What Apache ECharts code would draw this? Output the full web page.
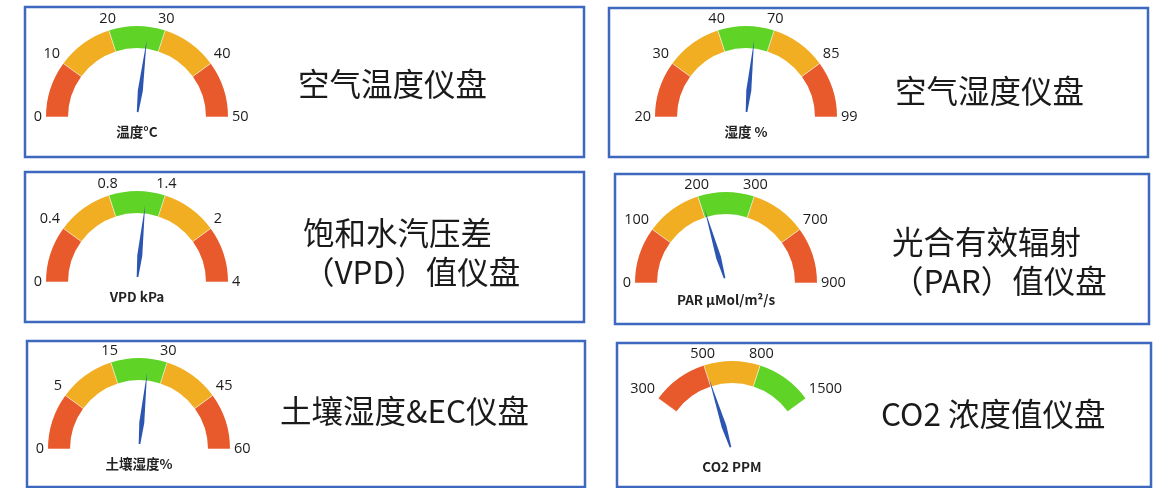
<!DOCTYPE html>
<html>
<head>
<meta charset="utf-8">
<script src="https://cdn.jsdelivr.net/npm/echarts@6/dist/echarts.min.js"></script>
<style>
  html, body { margin: 0; padding: 0; background: #fff; }
  #chart { width: 1161px; height: 488px; }
</style>
</head>
<body>
<div id="chart"></div>
<script>
// tick labels of each dial (segments are equal angle, so the scale is piecewise)
const tempTicks = [0, 10, 20, 30, 40, 50]
const humTicks = [20, 30, 40, 70, 85, 99]
const vpdTicks = [0, 0.4, 0.8, 1.4, 2, 4]
const parTicks = [0, 100, 200, 300, 700, 900]
const soilTicks = [0, 5, 15, 30, 45, 60]
const co2Ticks = [300, 500, 800, 1500]

// needle readings
const tempValue = 27
const humValue = 60
const vpdValue = 1.2
const parValue = 205
const soilValue = 25
const co2Value = 505

const unitNames = ['温度°C', '湿度 %', 'VPD kPa', 'PAR μMol/m²/s', '土壤湿度%', 'CO2 PPM']
const panelTitles = ['空气温度仪盘', '空气湿度仪盘', '饱和水汽压差\n（VPD）值仪盘', '光合有效辐射\n（PAR）值仪盘', '土壤湿度&EC仪盘', 'CO2 浓度值仪盘']

const RED = '#E85A2B'
const ORANGE = '#F1AE22'
const GREEN = '#5FD326'
const BLUE = '#2C55B2'

// layout of each panel
const panels = [
  {ticks: tempTicks, value: tempValue, center: [137, 117], box: [25, 7, 559, 150], title: [298, 65], bands: [RED, ORANGE, GREEN, ORANGE, RED]},
  {ticks: humTicks, value: humValue, center: [746, 117], box: [609, 8, 539, 149], title: [895, 72], bands: [RED, ORANGE, GREEN, ORANGE, RED]},
  {ticks: vpdTicks, value: vpdValue, center: [137, 282], box: [25, 172, 559, 150], title: [303, 214], bands: [RED, ORANGE, GREEN, ORANGE, RED]},
  {ticks: parTicks, value: parValue, center: [726, 283], box: [615, 174, 534, 150], title: [892, 223], bands: [RED, ORANGE, GREEN, ORANGE, RED], unitOffset: 17},
  {ticks: soilTicks, value: soilValue, center: [139, 449], box: [27, 341, 558, 146], title: [280, 392], bands: [RED, ORANGE, GREEN, ORANGE, RED]},
  {ticks: co2Ticks, value: co2Value, center: [732, 452], box: [617, 343, 534, 144], title: [881, 395], bands: [RED, ORANGE, GREEN], start: 144},
]

const R = 91
const BAND = 22
// 细长指针，尾部收窄
const NEEDLE = 'path://M2,0 L3.2,70 L2.4,100 L1.6,100 L0.8,70 Z'

/** 把读数换算成刻度段序号 */
function toIndex(v, ticks) {
  for (let i = 0; i < ticks.length - 1; i++) {
    if (v <= ticks[i + 1]) {
      return i + (v - ticks[i]) / (ticks[i + 1] - ticks[i])
    }
  }
  return ticks.length - 1
}

const option = {
  animation: false,
  backgroundColor: '#fff',
  title: [],
  polar: [],
  angleAxis: [],
  radiusAxis: [],
  series: [],
  graphic: [],
}

panels.forEach((p, i) => {
  const segs = p.ticks.length - 1
  const start = p.start || 180
  const end = start - segs * 36

  option.graphic.push({
    type: 'rect',
    shape: {x: p.box[0], y: p.box[1], width: p.box[2], height: p.box[3]},
    style: {fill: 'none', stroke: '#3D68C0', lineWidth: 2.5},
    z: 10,
  })

  option.title.push({
    text: panelTitles[i],
    left: p.title[0],
    top: p.title[1],
    padding: 0,
    textStyle: {
      fontFamily: 'Noto Sans CJK SC',
      fontSize: 31.5,
      fontWeight: 'normal',
      color: '#1a1a1a',
      lineHeight: 39,
    },
  })

  // tick labels through a polar angle axis (sits outside the arc)
  option.polar.push({center: p.center, radius: [0, R + 13]})
  option.angleAxis.push({
    polarIndex: i,
    type: 'value',
    min: 0,
    max: 10,
    interval: 1,
    startAngle: start,
    clockwise: true,
    axisLine: {show: false},
    axisTick: {show: false},
    splitLine: {show: false},
    axisLabel: {
      margin: -9,
      color: '#1c1c1c',
      fontSize: 14.5,
      fontFamily: 'Open Sans',
      formatter: v => (v <= segs ? String(p.ticks[v]) : ''),
    },
  })
  option.radiusAxis.push({polarIndex: i, type: 'value', min: 0, max: 1, show: false})

  option.series.push({
    type: 'gauge',
    center: p.center,
    radius: R,
    startAngle: start,
    endAngle: end,
    min: 0,
    max: segs,
    splitNumber: segs,
    axisLine: {
      lineStyle: {
        width: BAND,
        color: p.bands.map((c, k) => [(k + 1) / segs, c]),
      },
    },
    splitLine: {
      show: true,
      distance: -BAND,
      length: BAND,
      lineStyle: {color: 'rgba(255,255,255,0.55)', width: 1},
    },
    axisTick: {show: false},
    axisLabel: {show: false},
    pointer: {
      icon: NEEDLE,
      length: 72,
      width: 5,
      offsetCenter: [0, -5],
      itemStyle: {color: BLUE},
    },
    anchor: {show: false},
    title: {
      offsetCenter: [0, p.unitOffset || 15],
      fontSize: 13.5,
      fontWeight: 'bold',
      color: '#222',
      fontFamily: 'Noto Sans CJK SC',
    },
    detail: {show: false},
    data: [{value: toIndex(p.value, p.ticks), name: unitNames[i]}],
  })
})

const chart = echarts.init(document.getElementById('chart'))
chart.setOption(option)
</script>
</body>
</html>
